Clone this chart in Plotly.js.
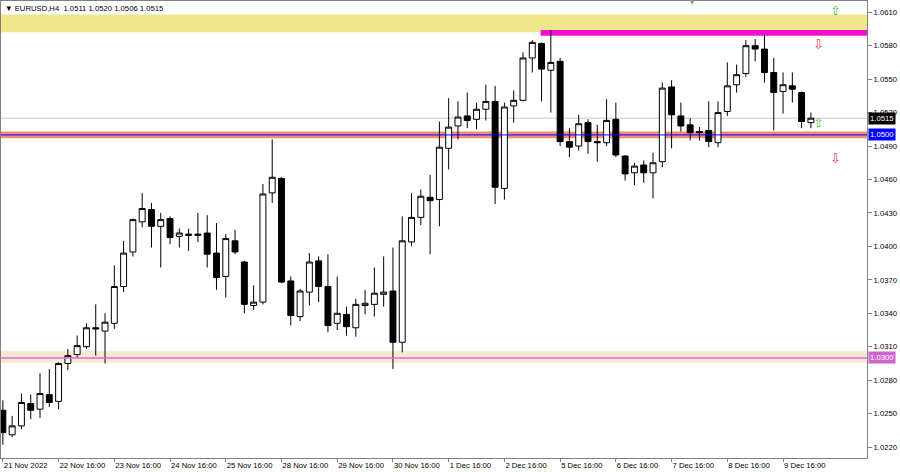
<!DOCTYPE html>
<html><head><meta charset="utf-8">
<script src="https://cdn.plot.ly/plotly-3.0.1.min.js"></script>
<style>html,body{margin:0;padding:0;background:#fff;}#chart{width:900px;height:472px;}</style>
</head><body><div id="chart"></div>
<script>
const symbol = 'EURUSD,H4';
const openP = [1.0253,1.0231,1.0239,1.0259,1.0254,1.0267,1.0261,1.0295,1.0303,1.0310,
1.0327,1.0324,1.0331,1.0364,1.0395,1.0422,1.0433,1.0418,1.0425,1.0409,
1.0411,1.0411,1.0412,1.0394,1.0373,1.0405,1.0386,1.0347,1.0350,1.0448,
1.0461,1.0369,1.0337,1.0359,1.0387,1.0364,1.0331,1.0339,1.0327,1.0347,
1.0348,1.0357,1.0360,1.0314,1.0404,1.0426,1.0444,1.0442,1.0488,1.0508,
1.0517,1.0514,1.0523,1.0530,1.0452,1.0526,1.0531,1.0569,1.0582,1.0558,
1.0566,1.0494,1.0490,1.0511,1.0494,1.0493,1.0514,1.0481,1.0466,1.0473,
1.0466,1.0476,1.0543,1.0517,1.0509,1.0503,1.0504,1.0493,1.0521,1.0545,
1.0555,1.0580,1.0577,1.0556,1.0539,1.0544,1.0538,1.0511];
const highP = [1.0262,1.0248,1.0268,1.0267,1.0286,1.0290,1.0296,1.0308,1.0320,1.0331,
1.0348,1.0340,1.0383,1.0405,1.0425,1.0448,1.0439,1.0430,1.0427,1.0416,
1.0416,1.0430,1.0428,1.0421,1.0411,1.0415,1.0387,1.0365,1.0456,1.0496,
1.0462,1.0373,1.0362,1.0394,1.0391,1.0393,1.0373,1.0346,1.0353,1.0361,
1.0381,1.0391,1.0399,1.0427,1.0448,1.0451,1.0464,1.0512,1.0533,1.0530,
1.0538,1.0529,1.0545,1.0544,1.0529,1.0540,1.0574,1.0585,1.0583,1.0594,
1.0569,1.0506,1.0518,1.0514,1.0509,1.0532,1.0529,1.0482,1.0475,1.0477,
1.0484,1.0547,1.0549,1.0529,1.0515,1.0507,1.0530,1.0530,1.0565,1.0563,
1.0585,1.0586,1.0590,1.0569,1.0556,1.0556,1.0539,1.0520];
const lowP = [1.0222,1.0229,1.0236,1.0245,1.0246,1.0256,1.0254,1.0289,1.0300,1.0308,
1.0302,1.0295,1.0326,1.0359,1.0391,1.0417,1.0399,1.0381,1.0402,1.0399,
1.0396,1.0404,1.0381,1.0361,1.0354,1.0393,1.0340,1.0343,1.0348,1.0439,
1.0367,1.0329,1.0333,1.0347,1.0350,1.0323,1.0325,1.0320,1.0319,1.0339,
1.0337,1.0346,1.0290,1.0305,1.0400,1.0419,1.0393,1.0418,1.0469,1.0496,
1.0506,1.0505,1.0513,1.0438,1.0442,1.0511,1.0530,1.0556,1.0530,1.0520,
1.0490,1.0480,1.0486,1.0483,1.0476,1.0490,1.0480,1.0459,1.0455,1.0457,
1.0443,1.0471,1.0488,1.0503,1.0495,1.0495,1.0489,1.0489,1.0517,1.0538,
1.0552,1.0566,1.0547,1.0504,1.0519,1.0529,1.0506,1.0506];
const closeP = [1.0233,1.0239,1.0260,1.0253,1.0268,1.0260,1.0295,1.0302,1.0311,1.0327,
1.0326,1.0332,1.0364,1.0394,1.0424,1.0434,1.0418,1.0424,1.0408,1.0412,
1.0410,1.0410,1.0393,1.0372,1.0407,1.0395,1.0348,1.0350,1.0447,1.0462,
1.0368,1.0338,1.0360,1.0386,1.0364,1.0329,1.0340,1.0328,1.0348,1.0349,
1.0358,1.0359,1.0314,1.0405,1.0426,1.0445,1.0441,1.0489,1.0507,1.0516,
1.0513,1.0523,1.0530,1.0453,1.0525,1.0531,1.0569,1.0583,1.0559,1.0565,
1.0494,1.0489,1.0510,1.0494,1.0493,1.0513,1.0482,1.0465,1.0472,1.0466,
1.0475,1.0542,1.0518,1.0508,1.0502,1.0502,1.0494,1.0520,1.0544,1.0554,
1.0580,1.0577,1.0556,1.0538,1.0545,1.0541,1.0512,1.0515];
const timeLabels = ['21 Nov 2022','22 Nov 16:00','23 Nov 16:00','24 Nov 16:00','25 Nov 16:00',
'28 Nov 16:00','29 Nov 16:00','30 Nov 16:00','1 Dec 16:00','2 Dec 16:00',
'5 Dec 16:00','6 Dec 16:00','7 Dec 16:00','8 Dec 16:00','9 Dec 16:00'];
const priceTicks = [1.0220,1.0250,1.0280,1.0310,1.0340,1.0370,1.0400,1.0430,1.0460,1.0490,1.0520,1.0550,1.0580,1.0610];

const barsPerLabel = 6;
const xIdx = openP.map((_, i) => i);
const last = openP.length - 1;
const fnt = 'Liberation Sans, Arial, sans-serif';
const fs = 7.7;

const trace = {
  type: 'candlestick', x: xIdx, open: openP, high: highP, low: lowP, close: closeP,
  increasing: {line: {color: '#000', width: 1}, fillcolor: '#ffffff'},
  decreasing: {line: {color: '#000', width: 1}, fillcolor: '#000000'},
  whiskerwidth: 0, hoverinfo: 'skip', showlegend: false
};

const shapes = [
  {type:'rect', xref:'paper', x0:0, x1:1, y0:1.0592, y1:1.0608, fillcolor:'#f0e68c', line:{width:0}, layer:'below'},
  {type:'rect', xref:'x', x0:57.9, x1:95, y0:1.0589, y1:1.0594, fillcolor:'#f010d0', line:{width:0}, layer:'below'},
  {type:'rect', xref:'paper', x0:0, x1:1, y0:1.0497, y1:1.0503, fillcolor:'#f28c7c', line:{width:0}, layer:'below'},
  {type:'rect', xref:'paper', x0:0, x1:1, y0:1.02957, y1:1.03064, fillcolor:'#fbe7d2', line:{width:0}, layer:'below'},
  {type:'line', xref:'paper', x0:0, x1:1, y0:1.0515, y1:1.0515, line:{color:'#c8c8c8', width:1}, layer:'below'},
  {type:'line', xref:'paper', x0:0, x1:1, y0:1.0300, y1:1.0300, line:{color:'#d670d6', width:1.5}, layer:'above'},
  {type:'line', xref:'paper', x0:0, x1:1, y0:1.0500, y1:1.0500, line:{color:'#0000ff', width:1}, layer:'above'}
];

const title = '\u25BC ' + symbol + '  ' + [openP[last], highP[last], lowP[last], closeP[last]].map(v => v.toFixed(4)).join(' ');

function priceTag(v, bg) {
  return {xref:'paper', x:1, xanchor:'left', xshift:1, yref:'y', y:v, yanchor:'middle',
    text: v.toFixed(4), showarrow:false, bgcolor:bg, borderpad:1,
    font:{family:fnt, size:fs, color:'#ffffff'}};
}
function arrow(x, y, up) {
  return {xref:'x', yref:'y', x:x, y:y, text: up ? '\u21E7' : '\u21E9', showarrow:false,
    font:{family:'DejaVu Sans', size:13, color: up ? '#4cbb4c' : '#e04848'}};
}

const annotations = [
  {xref:'paper', yref:'paper', x:0.002, y:1, xanchor:'left', yanchor:'top', yshift:-1, text:title, showarrow:false,
   font:{family:fnt, size:fs, color:'#000'}},
  {xref:'paper', yref:'paper', x:0.798, y:1, xanchor:'center', yanchor:'middle', text:'\u25BC', showarrow:false,
   font:{family:'DejaVu Sans', size:8, color:'#9a9a9a'}},
  priceTag(closeP[last], '#000000'),
  priceTag(1.0500, '#0000ff'),
  priceTag(1.0300, '#cc66cc'),
  arrow(89.6, 1.0612, true),
  arrow(87.8, 1.0511, true),
  arrow(87.8, 1.0581, false),
  arrow(89.7, 1.0479, false)
];

const layout = {
  width: 900, height: 472,
  margin: {l:1, r:33, t:1, b:14, pad:0},
  paper_bgcolor:'#ffffff', plot_bgcolor:'#ffffff',
  showlegend:false, dragmode:false, hovermode:false,
  boxgap: 0.15, boxgroupgap: 0.25,
  font:{family:fnt, size:fs, color:'#000'},
  xaxis: {type:'linear', range:[-0.2, 93.04], rangeslider:{visible:false},
    tickvals: timeLabels.map((_, k) => k * barsPerLabel), ticktext: timeLabels,
    ticks:'outside', ticklen:3, tickcolor:'#808080', ticklabelposition:'outside right',
    tickfont:{family:fnt, size:fs, color:'#000'},
    showgrid:false, zeroline:false, showline:true, mirror:true, linecolor:'#808080', linewidth:1, fixedrange:true},
  yaxis: {side:'right', range:[1.02102, 1.06201],
    tickvals: priceTicks, ticktext: priceTicks.map(v => v.toFixed(4)),
    ticks:'outside', ticklen:4, tickcolor:'#808080',
    tickfont:{family:fnt, size:fs, color:'#000'},
    showgrid:false, zeroline:false, showline:true, mirror:true, linecolor:'#808080', linewidth:1, fixedrange:true},
  shapes: shapes,
  annotations: annotations
};

Plotly.newPlot('chart', [trace], layout, {displayModeBar:false, staticPlot:true});
</script>
</body></html>
